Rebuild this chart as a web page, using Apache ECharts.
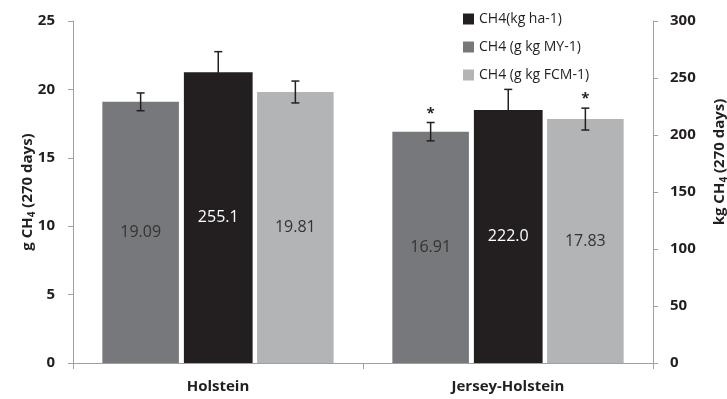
<!DOCTYPE html>
<html>
<head>
<meta charset="utf-8">
<script src="https://cdn.jsdelivr.net/npm/echarts@6/dist/echarts.min.js"></script>
<style>html,body{margin:0;padding:0;background:#fff;}#chart{width:727px;height:399px;}</style>
</head>
<body>
<div id="chart"></div>
<script>
const categories = ['Holstein', 'Jersey-Holstein'];
const myValues = [19.09, 16.91];
const myErr = [0.65, 0.67];
const mySig = [false, true];
const haValues = [255.1, 222.0];
const haErr = [18, 18];
const haSig = [false, false];
const fcmValues = [19.81, 17.83];
const fcmErr = [0.8, 0.8];
const fcmSig = [false, true];
const leftTicks = { min: 0, max: 25, interval: 5 };
const rightTicks = { min: 0, max: 300, interval: 50 };

const FONT = 'Open Sans';
const TXT = '#231f20';
const AXIS = '#a0a0a0';
const colors = { my: '#77787b', ha: '#231f20', fcm: '#b3b4b6' };

// bar width fractions of category band
const widths = [0.264, 0.237, 0.264];
const gapPct = 0.065;

function barCenterOffset(i, band) {
  const w = widths.map(f => f * band);
  let total = 0;
  w.forEach((x) => { total += x * (1 + gapPct); });
  total -= w[w.length - 1] * gapPct;
  let off = -total / 2;
  for (let k = 0; k < i; k++) off += w[k] * (1 + gapPct);
  return off + w[i] / 2;
}

function errSeries(idx, values, errs, sigs, yAxisIndex) {
  return {
    type: 'custom',
    yAxisIndex: yAxisIndex,
    z: 5,
    silent: true,
    data: values.map((v, i) => [i, v, errs[i], sigs[i] ? 1 : 0]),
    renderItem: function (params, api) {
      const c = api.value(0), v = api.value(1), e = api.value(2), s = api.value(3);
      const band = api.size([1, 0])[0];
      const x = api.coord([c, v])[0] + barCenterOffset(idx, band);
      const yTop = api.coord([c, v + e])[1];
      const yBot = api.coord([c, v - e])[1];
      const cap = 4;
      const st = { stroke: TXT, lineWidth: 1.5 };
      const children = [
        { type: 'line', shape: { x1: x, y1: yTop, x2: x, y2: yBot }, style: st },
        { type: 'line', shape: { x1: x - cap, y1: yTop, x2: x + cap, y2: yTop }, style: st },
        { type: 'line', shape: { x1: x - cap, y1: yBot, x2: x + cap, y2: yBot }, style: st }
      ];
      if (s) {
        children.push({ type: 'text', style: { text: '*', x: x, y: yTop - 9, align: 'center', verticalAlign: 'middle', fontSize: 15, fontWeight: 'bold', fontFamily: FONT, fill: TXT } });
      }
      return { type: 'group', children: children };
    }
  };
}

const chart = echarts.init(document.getElementById('chart'));
chart.setOption({
  animation: false,
  backgroundColor: '#fff',
  textStyle: { fontFamily: FONT },
  grid: { left: 73, right: 74, top: 21, bottom: 36, containLabel: false, outerBoundsMode: 'none' },
  legend: {
    orient: 'vertical', left: 458, top: 7,
    itemWidth: 11, itemHeight: 11, itemGap: 14, icon: 'rect',
    data: ['CH4(kg ha-1)', 'CH4 (g kg MY-1)', 'CH4 (g kg FCM-1)'],
    textStyle: { fontSize: 14, color: TXT, fontFamily: FONT, lineHeight: 14 }
  },
  xAxis: {
    type: 'category', data: categories,
    axisLine: { lineStyle: { color: AXIS, width: 1 } },
    axisTick: { show: true, length: 6, lineStyle: { color: AXIS }, alignWithLabel: false },
    axisLabel: { fontSize: 15, fontWeight: 'bold', color: TXT, margin: 16, fontFamily: FONT }
  },
  yAxis: [
    {
      type: 'value', position: 'left', min: leftTicks.min, max: leftTicks.max, interval: leftTicks.interval,
      name: 'g CH{s|4} (270 days)', nameLocation: 'middle', nameRotate: 90, nameGap: 36, nameMoveOverlap: false,
      nameTextStyle: { fontSize: 15, fontWeight: 'bold', color: TXT, fontFamily: FONT,
        rich: { s: { fontSize: 10, fontWeight: 'bold', color: TXT, fontFamily: FONT, verticalAlign: 'bottom', padding: [9, 0, 0, 0] } } },
      axisLine: { show: true, lineStyle: { color: AXIS, width: 1 } },
      axisTick: { show: true, length: 5, lineStyle: { color: AXIS } },
      splitLine: { show: false },
      axisLabel: { fontSize: 15, fontWeight: 'bold', color: TXT, margin: 18, fontFamily: FONT }
    },
    {
      type: 'value', position: 'right', min: rightTicks.min, max: rightTicks.max, interval: rightTicks.interval,
      name: 'kg CH{s|4} (270 days)', nameLocation: 'middle', nameRotate: 90, nameGap: 57, nameMoveOverlap: false,
      nameTextStyle: { fontSize: 15, fontWeight: 'bold', color: TXT, fontFamily: FONT, padding: [0, 0, 0, 60],
        rich: { s: { fontSize: 10, fontWeight: 'bold', color: TXT, fontFamily: FONT, verticalAlign: 'bottom', padding: [9, 0, 0, 0] } } },
      axisLine: { show: true, lineStyle: { color: AXIS, width: 1 } },
      axisTick: { show: true, length: 5, lineStyle: { color: AXIS } },
      splitLine: { show: false },
      axisLabel: { fontSize: 15, fontWeight: 'bold', color: TXT, margin: 17, fontFamily: FONT }
    }
  ],
  series: [
    {
      name: 'CH4 (g kg MY-1)', type: 'bar', yAxisIndex: 0, data: myValues,
      barWidth: (widths[0] * 100) + '%', barGap: (gapPct * 100) + '%',
      itemStyle: { color: colors.my },
      label: { show: true, position: 'inside', fontSize: 16, color: '#333', fontFamily: FONT, formatter: p => p.value.toFixed(2) }
    },
    {
      name: 'CH4(kg ha-1)', type: 'bar', yAxisIndex: 1, data: haValues,
      barWidth: (widths[1] * 100) + '%', barGap: (gapPct * 100) + '%',
      itemStyle: { color: colors.ha },
      label: { show: true, position: 'inside', fontSize: 16, color: '#fff', fontFamily: FONT, formatter: p => p.value.toFixed(1) }
    },
    {
      name: 'CH4 (g kg FCM-1)', type: 'bar', yAxisIndex: 0, data: fcmValues,
      barWidth: (widths[2] * 100) + '%', barGap: (gapPct * 100) + '%',
      itemStyle: { color: colors.fcm },
      label: { show: true, position: 'inside', fontSize: 16, color: '#333', fontFamily: FONT, formatter: p => p.value.toFixed(2) }
    },
    errSeries(0, myValues, myErr, mySig, 0),
    errSeries(1, haValues, haErr, haSig, 1),
    errSeries(2, fcmValues, fcmErr, fcmSig, 0)
  ]
});
</script>
</body>
</html>
